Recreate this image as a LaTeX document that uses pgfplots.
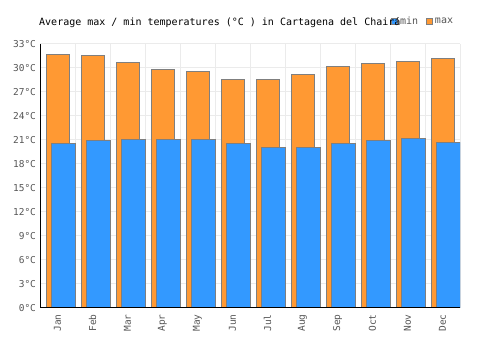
\documentclass[border=0pt]{standalone}
\usepackage{pgfplots}
\pgfplotsset{compat=1.18}
\usepackage{fontspec}
\setmainfont{DejaVu Sans Mono}
\setmonofont{DejaVu Sans Mono}
\definecolor{maxc}{HTML}{FF9933}
\definecolor{minc}{HTML}{3399FF}
\definecolor{bord}{HTML}{7F7F7F}
\definecolor{gridc}{HTML}{EBEBEB}
\definecolor{tickc}{HTML}{555555}
\begin{document}
\begin{tikzpicture}
\begin{axis}[
  at={(40pt,42pt)}, anchor=south west,
  width=420pt, height=264pt, scale only axis,
  xmin=-0.5, xmax=11.5, ymin=0, ymax=33,
  enlargelimits=false,
  axis lines*=left,
  axis line style={-, black, line width=1pt},
  xtick={0,...,11},
  xticklabels={Jan,Feb,Mar,Apr,May,Jun,Jul,Aug,Sep,Oct,Nov,Dec},
  minor xtick={-0.5,0.5,...,11.5},
  ytick={0,3,...,33},
  yticklabels={0°C,3°C,6°C,9°C,12°C,15°C,18°C,21°C,24°C,27°C,30°C,33°C},
  ymajorgrids, xminorgrids,
  grid style={gridc, line width=1pt},
  major tick length=0pt, minor tick length=0pt,
  tick label style={font=\fontsize{9.5}{10}\selectfont, text=tickc},
  xticklabel style={rotate=90, anchor=east},
  xticklabel shift=3pt,
  yticklabel style={xshift=-0.5pt},
  legend style={at={(axis description cs:0.836,1.087)}, anchor=west,
    draw=none, fill=none, legend columns=-1, inner sep=0pt,
    font=\fontsize{10}{10}\selectfont, text=tickc,
    /tikz/every even column/.append style={column sep=6pt}},
  legend image code/.code={\draw[#1, line width=0.8pt] (0pt,-3pt) rectangle (6pt,3pt);},
  reverse legend,
]
\addplot[ybar, bar width=23pt, bar shift=0.7pt, fill=maxc, draw=bord, line width=1pt]
  coordinates {(0,31.7) (1,31.5) (2,30.7) (3,29.8) (4,29.6) (5,28.6) (6,28.5) (7,29.2) (8,30.2) (9,30.6) (10,30.8) (11,31.2)};
\addlegendentry{max}
\addplot[ybar, bar width=24pt, bar shift=6pt, fill=minc, draw=bord, line width=1pt]
  coordinates {(0,20.5) (1,20.9) (2,21.1) (3,21.1) (4,21.0) (5,20.5) (6,20.1) (7,20.1) (8,20.6) (9,20.9) (10,21.2) (11,20.7)};
\addlegendentry{min}
\draw[black, line width=1pt] (axis cs:-0.5,0) -- (axis cs:11.5,0);
\end{axis}
\node[anchor=base west, inner sep=0pt, font=\fontsize{10}{12}\selectfont] at (39pt,324.3pt) {Average max / min temperatures (°C ) in Cartagena del Chairá};
\path (0,0) rectangle (500pt,350pt);
\end{tikzpicture}
\end{document}
